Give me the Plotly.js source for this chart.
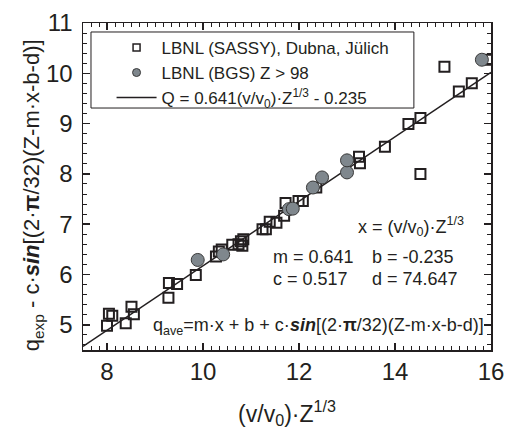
<!DOCTYPE html>
<html>
<head>
<meta charset="utf-8">
<script src="https://cdn.plot.ly/plotly-3.0.1.min.js"></script>
<style>
  html, body { margin: 0; padding: 0; background: #fff; }
  #chart { width: 509px; height: 430px; }
</style>
</head>
<body>
<div id="chart"></div>
<script>
// ---- data ----
const sqX = [8.00, 8.04, 8.11, 8.39, 8.51, 8.56, 9.28, 9.29, 9.46, 9.85,
             10.27, 10.33, 10.39, 10.61, 10.74, 10.79, 10.84, 10.82, 11.24, 11.31,
             11.39, 11.53, 11.69, 11.72, 11.99, 12.08, 12.36, 13.25, 13.27, 13.79,
             14.28, 14.53, 14.53, 15.03, 15.33, 15.60, 15.98];
const sqY = [4.98, 5.22, 5.18, 5.03, 5.36, 5.21, 5.54, 5.83, 5.81, 5.99,
             6.36, 6.46, 6.50, 6.59, 6.60, 6.66, 6.70, 6.57, 6.90, 6.90,
             7.05, 7.03, 7.17, 7.42, 7.46, 7.46, 7.73, 8.34, 8.21, 8.54,
             8.99, 9.11, 8.00, 10.13, 9.64, 9.80, 10.27];
const ciX = [9.89, 10.42, 11.79, 11.87, 12.29, 12.48, 13.00, 13.00, 15.81];
const ciY = [6.29, 6.40, 7.30, 7.31, 7.73, 7.93, 8.03, 8.27, 10.27];
const fitM = 0.641;
const fitB = -0.235;
const fitXRange = [7.5, 16];
const fitY = fitXRange.map(x => fitM * x + fitB);

const names = ['LBNL (SASSY), Dubna, Jülich',
               'LBNL (BGS) Z &gt; 98',
               'Q = 0.641(v/v<sub>0</sub>)·Z<sup>1/3</sup> - 0.235'];

const FONT = 'Liberation Sans, Arial, Helvetica, sans-serif';
const INK = '#231f20';
const GRAY = '#7f878d';

const traces = [
  { x: fitXRange, y: fitY, mode: 'lines', line: { color: INK, width: 1.5 },
    showlegend: false, hoverinfo: 'skip' },
  { x: sqX, y: sqY, mode: 'markers', showlegend: false,
    marker: { symbol: 'square-open', size: 10, color: INK, line: { width: 2, color: INK } } },
  { x: ciX, y: ciY, mode: 'markers', showlegend: false,
    marker: { symbol: 'circle', size: 13, color: GRAY, line: { width: 1, color: '#3a3a3a' } } },
  // legend entries
  { x: [null], y: [null], mode: 'markers', name: names[0],
    marker: { symbol: 'square-open', size: 7, color: INK, line: { width: 1.5, color: INK } } },
  { x: [null], y: [null], mode: 'markers', name: names[1],
    marker: { symbol: 'circle', size: 8, color: GRAY, line: { width: 1, color: '#3a3a3a' } } },
  { x: [null], y: [null], mode: 'lines', name: names[2],
    line: { color: INK, width: 1.5 } }
];

const axisCommon = {
  showline: true, linecolor: INK, linewidth: 1.5, mirror: 'allticks',
  ticks: 'inside', ticklen: 7, tickwidth: 1.5, tickcolor: INK,
  showgrid: false, zeroline: false,
  tickfont: { family: FONT, size: 24, color: INK }
};

const annFont = { family: FONT, size: 18, color: INK };
const layout = {
  width: 509, height: 430,
  margin: { l: 83, r: 18, t: 23, b: 80 },
  paper_bgcolor: '#fff', plot_bgcolor: '#fff',
  font: { family: FONT, color: INK },
  xaxis: Object.assign({}, axisCommon, {
    range: [7.5, 16], dtick: 2, tick0: 0,
    minor: { ticks: 'inside', ticklen: 4, tickwidth: 1, tickcolor: INK, dtick: 2 / 12 },
    title: { text: '(v/v<sub>0</sub>)·Z<sup>1/3</sup>', font: { family: FONT, size: 23, color: INK }, standoff: 21 }
  }),
  yaxis: Object.assign({}, axisCommon, {
    range: [4.5, 11], dtick: 1, tick0: 0,
    ticklabelstandoff: 4,
    minor: { ticks: 'inside', ticklen: 4, tickwidth: 1, tickcolor: INK, dtick: 0.2 }
  }),
  showlegend: true,
  legend: {
    x: 0.07, y: 0.979, xanchor: 'left', yanchor: 'top',
    bgcolor: 'rgba(0,0,0,0)', borderwidth: 0,
    font: { family: FONT, size: 17, color: INK },
    itemwidth: 40, tracegroupgap: 0
  },
  shapes: [
    { type: 'rect', xref: 'paper', yref: 'paper', x0: 0.0196, x1: 0.811, y0: 0.740, y1: 0.9725,
      line: { color: INK, width: 1 }, fillcolor: 'rgba(0,0,0,0)' }
  ],
  annotations: [
    { x: -0.122, y: 0.474, xref: 'paper', yref: 'paper', xanchor: 'center', yanchor: 'middle',
      showarrow: false, textangle: -90,
      text: 'q<sub>exp</sub> - c·<b><i>sin</i></b>[(2·<b>π</b>/32)(Z-m·x-b-d)]',
      font: { family: FONT, size: 22, color: INK } },
    { x: 15.48, y: 6.95, xref: 'x', yref: 'y', xanchor: 'right', yanchor: 'middle', showarrow: false,
      text: 'x = (v/v<sub>0</sub>)·Z<sup>1/3</sup>', font: annFont },
    { x: 11.42, y: 6.35, xref: 'x', yref: 'y', xanchor: 'left', yanchor: 'middle', showarrow: false,
      text: 'm = 0.641', font: annFont },
    { x: 13.48, y: 6.35, xref: 'x', yref: 'y', xanchor: 'left', yanchor: 'middle', showarrow: false,
      text: 'b = -0.235', font: annFont },
    { x: 11.42, y: 5.91, xref: 'x', yref: 'y', xanchor: 'left', yanchor: 'middle', showarrow: false,
      text: 'c = 0.517', font: annFont },
    { x: 13.48, y: 5.91, xref: 'x', yref: 'y', xanchor: 'left', yanchor: 'middle', showarrow: false,
      text: 'd = 74.647', font: annFont },
    { x: 8.92, y: 4.97, xref: 'x', yref: 'y', xanchor: 'left', yanchor: 'middle', showarrow: false,
      text: 'q<sub>ave</sub>=m·x + b + c·<b><i>sin</i></b>[(2·<b>π</b>/32)(Z-m·x-b-d)]', font: annFont }
  ]
};

Plotly.newPlot('chart', traces, layout, { staticPlot: true, displayModeBar: false });
</script>
</body>
</html>
